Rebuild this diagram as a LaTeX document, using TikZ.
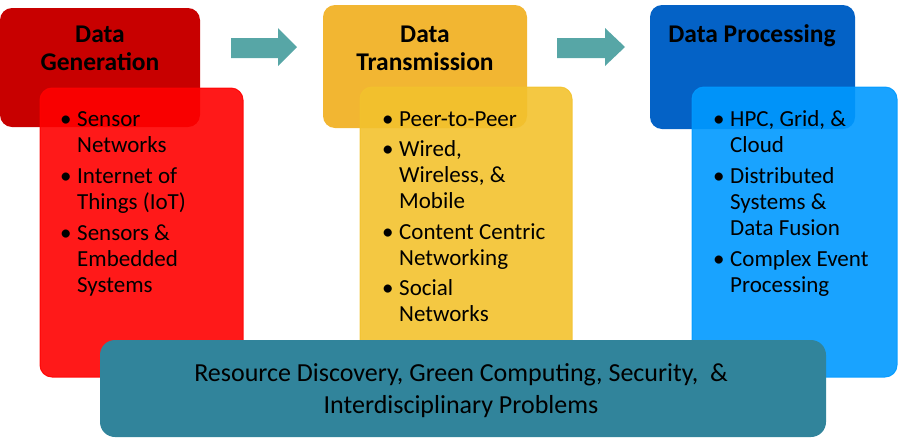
\documentclass[tikz,border=0pt]{standalone}
\usepackage{fontspec}
\setmainfont{Carlito}
\definecolor{darkredc}{HTML}{C80000}
\definecolor{redc}{HTML}{FF0000}
\definecolor{yellowa}{HTML}{F2B632}
\definecolor{yellowb}{HTML}{F3C22D}
\definecolor{bluea}{HTML}{0462C6}
\definecolor{blueb}{HTML}{0099FF}
\definecolor{tealc}{HTML}{31849B}
\definecolor{arrowc}{HTML}{57A6A6}
\newcommand{\bul}{\makebox[17pt][l]{\textbullet}}
\begin{document}
\begin{tikzpicture}[x=1pt,y=-1pt,
  box/.style={rounded corners=12pt, inner sep=0pt, outer sep=0pt, anchor=north west},
  lowbox/.style={box, fill opacity=0.9, draw opacity=0.9, line width=1pt},
  titletext/.style={inner sep=0pt, anchor=base, font=\fontsize{25.5}{28}\selectfont\bfseries},
  listtext/.style={inner sep=0pt, anchor=base west, font=\fontsize{23}{26}\selectfont},
  bottomtext/.style={inner sep=0pt, anchor=base, font=\fontsize{26}{32}\selectfont},
  blockarrow/.style={fill=arrowc}
]
\useasboundingbox (0,0) rectangle (900,440);

% top boxes
\node[box, fill=darkredc, minimum width=200pt, minimum height=119pt] (gen) at (0,8) {};
\node[box, fill=yellowa, minimum width=204pt, minimum height=123pt] (trans) at (323,5) {};
\node[box, fill=bluea, minimum width=205pt, minimum height=124pt] (proc) at (650,5) {};

% lower boxes
\node[lowbox, fill=redc, draw=redc, minimum width=203pt, minimum height=289pt] (genl) at (40,88) {};
\node[lowbox, fill=yellowb, draw=yellowb, minimum width=212pt, minimum height=290pt] (transl) at (360,87) {};
\node[lowbox, fill=blueb, draw=blueb, minimum width=205pt, minimum height=290pt] (procl) at (692,87) {};

% bottom box
\node[box, rounded corners=15pt, fill=tealc, minimum width=726pt, minimum height=97pt] (bottom) at (100,340) {};

% arrows
\fill[blockarrow] (231,38) -- (278,38) -- (278,28) -- (297,47) -- (278,66) -- (278,58) -- (231,58) -- cycle;
\fill[blockarrow] (557,38) -- (605,38) -- (605,28) -- (625,47) -- (605,66) -- (605,58) -- (557,58) -- cycle;

% titles
\node[titletext] (gent) at (100,42) {\begin{tabular}[t]{@{}c@{}}Data\\Generation\end{tabular}};
\node[titletext] (transt) at (425,42) {\begin{tabular}[t]{@{}c@{}}Data\\Transmission\end{tabular}};
\node[titletext] (proct) at (752,42) {Data Processing};

% lists
\node[listtext] (genitems) at (60,126) {\begin{tabular}[t]{@{}l@{}l@{}}
\bul & Sensor\\ & Networks\\[5pt]
\bul & Internet of\\ & Things (IoT)\\[5pt]
\bul & Sensors \&\\ & Embedded\\ & Systems
\end{tabular}};
\node[listtext] (transitems) at (382,126) {\begin{tabular}[t]{@{}l@{}l@{}}
\bul & Peer-to-Peer\\[4pt]
\bul & Wired,\\ & Wireless, \&\\ & Mobile\\[5pt]
\bul & Content Centric\\ & Networking\\[4pt]
\bul & Social\\ & Networks
\end{tabular}};
\node[listtext] (procitems) at (713,126) {\begin{tabular}[t]{@{}l@{}l@{}}
\bul & HPC, Grid, \&\\ & Cloud\\[5pt]
\bul & Distributed\\ & Systems \&\\ & Data Fusion\\[5pt]
\bul & Complex Event\\ & Processing
\end{tabular}};

% bottom text
\node[bottomtext] (bottomt) at (461,381) {\begin{tabular}[t]{@{}c@{}}Resource Discovery, Green Computing, Security,\ \ \&\\Interdisciplinary Problems\end{tabular}};
\end{tikzpicture}
\end{document}
